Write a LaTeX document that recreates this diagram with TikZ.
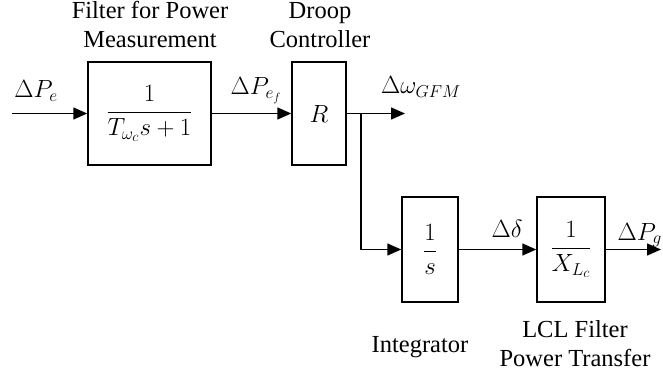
\documentclass[tikz,border=0pt]{standalone}
\usepackage{amsmath}
\usepackage{fontspec}
\setmainfont{Liberation Serif}
\newfontfamily\capfont{Liberation Serif}
\usetikzlibrary{arrows.meta}
\begin{document}
\begin{tikzpicture}[x=1pt,y=-1pt,
  blk/.style={draw,line width=1.5pt,inner sep=0pt,font=\fontsize{26.5}{30}\selectfont},
  sig/.style={line width=1.5pt,-{Triangle[length=14pt,width=12pt]}},
  lbl/.style={inner sep=0pt,anchor=base,font=\fontsize{26}{30}\selectfont},
  captxt/.style={inner sep=0pt,anchor=base,align=center,font=\capfont\fontsize{24.5}{28.7}\selectfont}]
\useasboundingbox (0,0) rectangle (663,377);
% blocks
\node[blk,minimum width=123pt,minimum height=103pt] (filt) at (149.5,113.5) {$\dfrac{1}{T_{\omega_c}s+1}$};
\node[blk,minimum width=54pt,minimum height=103pt] (droop) at (319,113.5) {$R$};
\node[blk,minimum width=56pt,minimum height=105pt] (int) at (430,249.5) {$\dfrac{1}{s}$};
\node[blk,minimum width=68pt,minimum height=105pt] (lcl) at (571,249.5) {$\dfrac{1}{X_{L_c}}$};
% coordinates
\coordinate (in) at (12,113.5);
\coordinate (br) at (361,113.5);
\coordinate (wout) at (405,113.5);
\coordinate (corner) at (361,249.5);
\coordinate (out) at (661,249.5);
% connectors
\draw[sig] (in) -- (filt.west);
\draw[sig] (filt.east) -- (droop.west);
\draw[sig] (droop.east) -- (wout);
\draw[sig] (br) -- (corner) -- (int.west);
\draw[sig] (int.east) -- (lcl.west);
\draw[sig] (lcl.east) -- (out);
% signal labels
\node[lbl] (lpe) at (36,98) {$\Delta P_e$};
\node[lbl] (lpef) at (256,95) {$\Delta P_{e_f}$};
\node[lbl] (lw) at (421,94) {$\Delta\omega_{GFM}$};
\node[lbl] (ld) at (507,237) {$\Delta\delta$};
\node[lbl,anchor=base east] (lpg) at (662,240) {$\Delta P_g$};
% captions
\node[captxt] (cf) at (150,47.5) {Filter for Power\\Measurement};
\node[captxt] (cd) at (320,47.5) {Droop\\Controller};
\node[captxt] (ci) at (420,352) {Integrator};
\node[captxt] (cl) at (575,366) {LCL Filter\\Power Transfer};
\end{tikzpicture}
\end{document}
